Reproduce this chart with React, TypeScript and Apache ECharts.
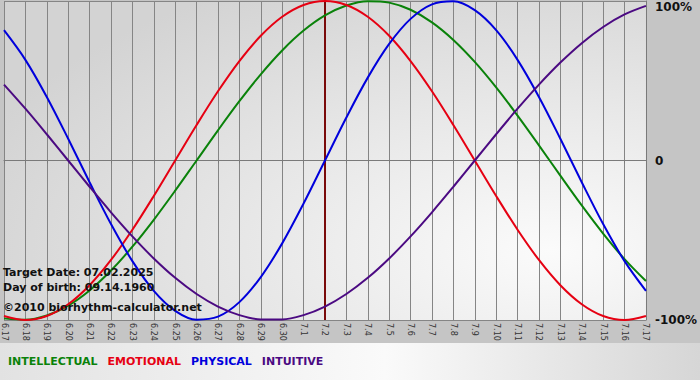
import React, { useEffect, useRef } from "react";
import * as echarts from "echarts";

const dates = [
  "6.17", "6.18", "6.19", "6.20", "6.21", "6.22", "6.23", "6.24", "6.25", "6.26",
  "6.27", "6.28", "6.29", "6.30", "7.1", "7.2", "7.3", "7.4", "7.5", "7.6",
  "7.7", "7.8", "7.9", "7.10", "7.11", "7.12", "7.13", "7.14", "7.15", "7.16", "7.17",
];

const intellectual = [
  -0.9898, -0.9989, -0.9718, -0.9096, -0.8146, -0.6901, -0.5406, -0.3717, -0.1893, 0,
  0.1893, 0.3717, 0.5406, 0.6901, 0.8146, 0.9096, 0.9718, 0.9989, 0.9898, 0.945,
  0.866, 0.7557, 0.6182, 0.4582, 0.2817, 0.0951, -0.0951, -0.2817, -0.4582, -0.6182, -0.7557,
];

const emotional = [
  -0.9749, -1, -0.9749, -0.901, -0.7818, -0.6235, -0.4339, -0.2225, 0, 0.2225,
  0.4339, 0.6235, 0.7818, 0.901, 0.9749, 1, 0.9749, 0.901, 0.7818, 0.6235,
  0.4339, 0.2225, 0, -0.2225, -0.4339, -0.6235, -0.7818, -0.901, -0.9749, -1, -0.9749,
];

const physical = [
  0.817, 0.6311, 0.3984, 0.1362, -0.1362, -0.3984, -0.6311, -0.817, -0.9423, -0.9977,
  -0.9791, -0.8879, -0.7308, -0.5196, -0.2698, 0, 0.2698, 0.5196, 0.7308, 0.8879,
  0.9791, 0.9977, 0.9423, 0.817, 0.6311, 0.3984, 0.1362, -0.1362, -0.3984, -0.6311, -0.817,
];

const intuitive = [
  0.4759, 0.3247, 0.1646, 0, -0.1646, -0.3247, -0.4759, -0.6142, -0.7357, -0.8372,
  -0.9158, -0.9694, -0.9966, -0.9966, -0.9694, -0.9158, -0.8372, -0.7357, -0.6142, -0.4759,
  -0.3247, -0.1646, 0, 0.1646, 0.3247, 0.4759, 0.6142, 0.7357, 0.8372, 0.9158, 0.9694,
];

const targetDate = "7.2";
const infoLines = [
  "Target Date: 07.02.2025",
  "Day of birth: 09.14.1960",
  "\u00a92010 biorhythm-calculator.net",
];

const FONT = "DejaVu Sans";
const colors = {
  INTELLECTUAL: "#0a820a",
  EMOTIONAL: "#e60012",
  PHYSICAL: "#0000dc",
  INTUITIVE: "#4b0a82",
};

export default function App() {
  const ref = useRef<HTMLDivElement>(null);

  useEffect(() => {
    if (!ref.current) return;
    const chart = echarts.init(ref.current, null, { renderer: "svg" });

    const mk = (name: string, data: number[], extra: any = {}) => ({
      name,
      type: "line",
      data,
      smooth: 0.34,
      symbol: "none",
      lineStyle: { color: (colors as any)[name], width: 2 },
      itemStyle: { color: (colors as any)[name] },
      ...extra,
    });

    chart.setOption({
      animation: false,
      backgroundColor: "#c5c5c5",
      textStyle: { fontFamily: FONT },
      grid: {
        left: 1,
        right: 51,
        top: 1,
        bottom: 60,
        show: true,
        borderWidth: 0,
        backgroundColor: {
          type: "radial",
          x: 0.85,
          y: 0.78,
          r: 0.95,
          colorStops: [
            { offset: 0, color: "#fbfbfb" },
            { offset: 1, color: "#d3d3d3" },
          ],
        },
      },
      legend: {
        left: 3,
        top: 354,
        icon: "none",
        itemWidth: 0,
        itemGap: 5,
        padding: 0,
        selectedMode: false,
        data: Object.keys(colors).map((n) => ({
          name: n,
          textStyle: { color: (colors as any)[n] },
        })),
        textStyle: { fontFamily: FONT, fontWeight: "bold", fontSize: 11 },
      },
      xAxis: {
        type: "category",
        data: dates,
        boundaryGap: false,
        axisLine: { show: true, lineStyle: { color: "#7a7a7a", width: 1 } },
        axisTick: { show: true, length: 3, interval: 0, lineStyle: { color: "#7a7a7a" } },
        splitLine: { show: true, interval: 0, lineStyle: { color: "#858585", width: 1 } },
        axisLabel: {
          interval: 0,
          rotate: -90,
          fontSize: 8,
          margin: 3,
          color: "#333",
          fontFamily: FONT,
        },
      },
      yAxis: {
        type: "value",
        position: "right",
        min: -1,
        max: 1,
        interval: 1,
        axisLine: { show: true, lineStyle: { color: "#7a7a7a" } },
        axisTick: { show: false },
        splitLine: { show: true, lineStyle: { color: "#858585", width: 1 } },
        axisLabel: {
          margin: 9,
          color: "#111",
          fontSize: 12,
          fontWeight: "bold",
          fontFamily: FONT,
          formatter: (v: number) =>
            v === 1 ? "{t|100%}" : v === 0 ? "0" : "-100%",
          rich: {
            t: {
              padding: [12, 0, 0, 0],
              fontSize: 12,
              fontWeight: "bold",
              color: "#111",
              fontFamily: FONT,
            },
          },
        },
      },
      series: [
        mk("INTELLECTUAL", intellectual, {
          markLine: {
            silent: true,
            symbol: "none",
            label: { show: false },
            lineStyle: { color: "#7a0a0a", width: 2, type: "solid" },
            data: [{ xAxis: targetDate }],
            z: 1,
          },
        }),
        mk("EMOTIONAL", emotional),
        mk("PHYSICAL", physical),
        mk("INTUITIVE", intuitive),
      ],
      graphic: [
        {
          type: "rect",
          silent: true,
          z: -10,
          shape: { x: 0, y: 343, width: 700, height: 37 },
          style: {
            fill: {
              type: "linear",
              x: 0,
              y: 0,
              x2: 1,
              y2: 0,
              colorStops: [
                { offset: 0, color: "#e2e2e2" },
                { offset: 0.55, color: "#fafafa" },
                { offset: 1, color: "#d6d6d6" },
              ],
            },
          },
        },
        ...infoLines.map((t, i) => ({
          type: "text",
          z: 100,
          silent: true,
          x: 3,
          y: [272, 287, 307.5][i],
          style: {
            text: t,
            fill: "#111",
            font: `bold 11px "${FONT}"`,
            textVerticalAlign: "middle",
            verticalAlign: "middle",
          },
        })),
      ],
    });

    return () => chart.dispose();
  }, []);

  return (
    <div
      ref={ref}
      style={{ position: "fixed", left: 0, top: 0, width: 700, height: 380 }}
    />
  );
}
